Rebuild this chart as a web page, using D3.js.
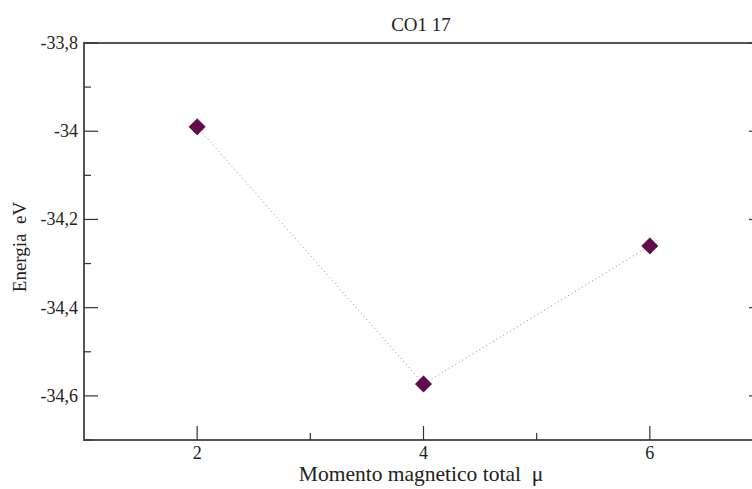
<!DOCTYPE html>
<html>
<head>
<meta charset="utf-8">
<script src="https://cdn.jsdelivr.net/npm/d3@7"></script>
<style>
  html, body { margin: 0; padding: 0; background: #fff; overflow: hidden; }
  svg { display: block; }
</style>
</head>
<body>
<svg id="chart" width="752" height="489"></svg>
<script>
// Total magnetic moment vs. energy for CO1 17
const moments = [2, 4, 6];
const energies = [-33.990, -34.573, -34.260];
const xMajorTicks = [2, 4, 6];
const xMinorTicks = [3, 5];
const yMajorTicks = [-33.8, -34.0, -34.2, -34.4, -34.6];
const yMinorTicks = [-33.9, -34.1, -34.3, -34.5, -34.7];
const yTickLabels = ["-33,8", "-34", "-34,2", "-34,4", "-34,6"];

const FONT = "'Liberation Serif', 'DejaVu Serif', serif";
const svg = d3.select("#chart").attr("font-family", FONT);
const plot = { left: 84, top: 43, bottom: 440, right: 763 };

const x = d3.scaleLinear().domain([1, 7]).range([plot.left, plot.right]);
const y = d3.scaleLinear().domain([-34.7, -33.8]).range([plot.bottom, plot.top]);

const axisColor = "#555";
const tickColor = "#333";

// frame
svg.append("rect")
  .attr("x", plot.left).attr("y", plot.top)
  .attr("width", plot.right - plot.left).attr("height", plot.bottom - plot.top)
  .attr("fill", "none").attr("stroke", axisColor).attr("stroke-width", 2);

// bottom axis ticks (inward)
const gx = svg.append("g");
gx.selectAll("line.maj").data(xMajorTicks).join("line").attr("class", "maj")
  .attr("x1", d => x(d)).attr("x2", d => x(d))
  .attr("y1", plot.bottom).attr("y2", plot.bottom - 14)
  .attr("stroke", tickColor).attr("stroke-width", 1.2);
gx.selectAll("line.min").data(xMinorTicks).join("line").attr("class", "min")
  .attr("x1", d => x(d)).attr("x2", d => x(d))
  .attr("y1", plot.bottom).attr("y2", plot.bottom - 7)
  .attr("stroke", tickColor).attr("stroke-width", 1.2);
gx.selectAll("text").data(xMajorTicks).join("text")
  .attr("x", d => x(d)).attr("y", plot.bottom + 19)
  .attr("text-anchor", "middle").attr("font-size", 18).attr("fill", "#222")
  .text(d => d);

// left and right axis ticks (inward)
const gy = svg.append("g");
[[plot.left, 1], [plot.right, -1]].forEach(([x0, dir]) => {
  gy.append("g").selectAll("line").data(yMajorTicks).join("line")
    .attr("x1", x0).attr("x2", x0 + dir * 14)
    .attr("y1", d => y(d)).attr("y2", d => y(d))
    .attr("stroke", tickColor).attr("stroke-width", 1.2);
  gy.append("g").selectAll("line").data(yMinorTicks).join("line")
    .attr("x1", x0).attr("x2", x0 + dir * 7)
    .attr("y1", d => y(d)).attr("y2", d => y(d))
    .attr("stroke", tickColor).attr("stroke-width", 1.2);
});
gy.append("g").selectAll("text").data(yMajorTicks).join("text")
  .attr("x", plot.left - 6).attr("y", d => y(d) + 6)
  .attr("text-anchor", "end").attr("font-size", 18).attr("fill", "#222")
  .text((d, i) => yTickLabels[i]);

// title and axis labels
svg.append("text").attr("x", 421).attr("y", 31)
  .attr("text-anchor", "middle").attr("font-size", 19).attr("fill", "#222")
  .text("CO1 17");
svg.append("text").attr("x", 421).attr("y", 481)
  .attr("text-anchor", "middle").attr("font-size", 21.5).attr("fill", "#222")
  .attr("xml:space", "preserve").text("Momento magnetico total  μ");
svg.append("text")
  .attr("transform", "translate(26,247) rotate(-90)")
  .attr("text-anchor", "middle").attr("font-size", 19).attr("fill", "#222")
  .attr("xml:space", "preserve").text("Energia  eV");

// dotted connecting line
const pts = moments.map((m, i) => [m, energies[i]]);
svg.append("path")
  .datum(pts)
  .attr("d", d3.line().x(d => x(d[0])).y(d => y(d[1])))
  .attr("fill", "none").attr("stroke", "#9a8a95")
  .attr("stroke-width", 1).attr("stroke-dasharray", "1,3");

// diamond markers
svg.selectAll("path.marker").data(pts).join("path")
  .attr("class", "marker")
  .attr("d", d3.symbol().type(d3.symbolDiamond2).size(170))
  .attr("transform", d => `translate(${x(d[0])},${y(d[1])})`)
  .attr("fill", "#640a4a").attr("stroke", "#4a0636").attr("stroke-width", 0.6);
</script>
</body>
</html>
